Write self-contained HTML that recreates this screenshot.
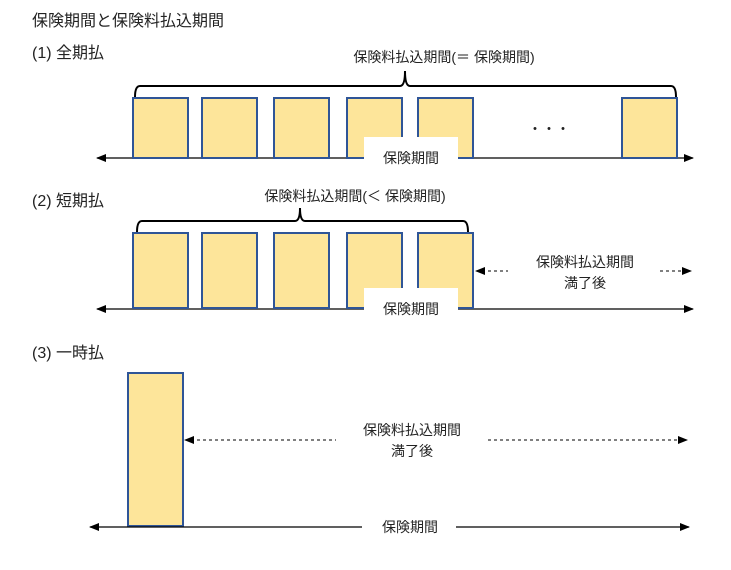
<!DOCTYPE html>
<html><head><meta charset="utf-8"><style>
body{margin:0;background:#fff;}
svg text{font-family:"Liberation Sans","Noto Sans CJK JP",sans-serif;fill:#222;}
</style></head><body>
<svg width="731" height="565" viewBox="0 0 731 565" xmlns="http://www.w3.org/2000/svg">
<defs>
<marker id="a" markerWidth="10" markerHeight="8" refX="9" refY="4" orient="auto" markerUnits="userSpaceOnUse"><path d="M0,0 L10,4 L0,8 z" fill="#000"/></marker>
<marker id="b" markerWidth="10" markerHeight="8" refX="1" refY="4" orient="auto" markerUnits="userSpaceOnUse"><path d="M10,0 L0,4 L10,8 z" fill="#000"/></marker>
</defs>
<text x="32" y="26" font-size="16">保険期間と保険料払込期間</text>
<text x="32" y="58" font-size="16">(1)  全期払</text>
<text x="32" y="206" font-size="16">(2)  短期払</text>
<text x="32" y="358" font-size="16">(3)  一時払</text>

<!-- section 1 -->
<text x="444" y="62" font-size="14" text-anchor="middle">保険料払込期間(＝ 保険期間)</text>
<path d="M135,97 Q135,86 140,86 L400,86 Q405,86 405,71 Q405,86 410,86 L671,86 Q676,86 676,97" fill="none" stroke="#000" stroke-width="2"/>
<line x1="97" y1="158" x2="693" y2="158" stroke="#000" stroke-width="1.3" marker-start="url(#b)" marker-end="url(#a)"/>
<g fill="#fde59a" stroke="#2f5597" stroke-width="2">
<rect x="133" y="98" width="55" height="60"/><rect x="202" y="98" width="55" height="60"/><rect x="274" y="98" width="55" height="60"/><rect x="347" y="98" width="55" height="60"/><rect x="418" y="98" width="55" height="60"/><rect x="622" y="98" width="55" height="60"/>
</g>
<rect x="364" y="137" width="94" height="28" fill="#fff"/>
<text x="411" y="163" font-size="14" text-anchor="middle">保険期間</text>
<text x="549" y="134" font-size="14" text-anchor="middle">・・・</text>

<!-- section 2 -->
<text x="355" y="201" font-size="14" text-anchor="middle">保険料払込期間(＜ 保険期間)</text>
<path d="M137,232 Q137,221 142,221 L295,221 Q300,221 300,208 Q300,221 305,221 L463,221 Q468,221 468,232" fill="none" stroke="#000" stroke-width="2"/>
<line x1="97" y1="309" x2="693" y2="309" stroke="#000" stroke-width="1.3" marker-start="url(#b)" marker-end="url(#a)"/>
<g fill="#fde59a" stroke="#2f5597" stroke-width="2">
<rect x="133" y="233" width="55" height="75"/><rect x="202" y="233" width="55" height="75"/><rect x="274" y="233" width="55" height="75"/><rect x="347" y="233" width="55" height="75"/><rect x="418" y="233" width="55" height="75"/>
</g>
<rect x="364" y="288" width="94" height="28" fill="#fff"/>
<text x="411" y="314" font-size="14" text-anchor="middle">保険期間</text>
<line x1="476" y1="271" x2="508" y2="271" stroke="#000" stroke-dasharray="3,3" marker-start="url(#b)"/>
<line x1="660" y1="271" x2="691" y2="271" stroke="#000" stroke-dasharray="3,3" marker-end="url(#a)"/>
<text x="585" y="267" font-size="14" text-anchor="middle">保険料払込期間</text>
<text x="585" y="288" font-size="14" text-anchor="middle">満了後</text>

<!-- section 3 -->
<rect x="128" y="373" width="55" height="153" fill="#fde59a" stroke="#2f5597" stroke-width="2"/>
<line x1="185" y1="440" x2="336" y2="440" stroke="#000" stroke-dasharray="3,3" marker-start="url(#b)"/>
<line x1="488" y1="440" x2="687" y2="440" stroke="#000" stroke-dasharray="3,3" marker-end="url(#a)"/>
<text x="412" y="435" font-size="14" text-anchor="middle">保険料払込期間</text>
<text x="412" y="456" font-size="14" text-anchor="middle">満了後</text>
<line x1="90" y1="527" x2="362" y2="527" stroke="#000" stroke-width="1.3" marker-start="url(#b)"/>
<line x1="456" y1="527" x2="689" y2="527" stroke="#000" stroke-width="1.3" marker-end="url(#a)"/>
<text x="410" y="532" font-size="14" text-anchor="middle">保険期間</text>
</svg>
</body></html>
